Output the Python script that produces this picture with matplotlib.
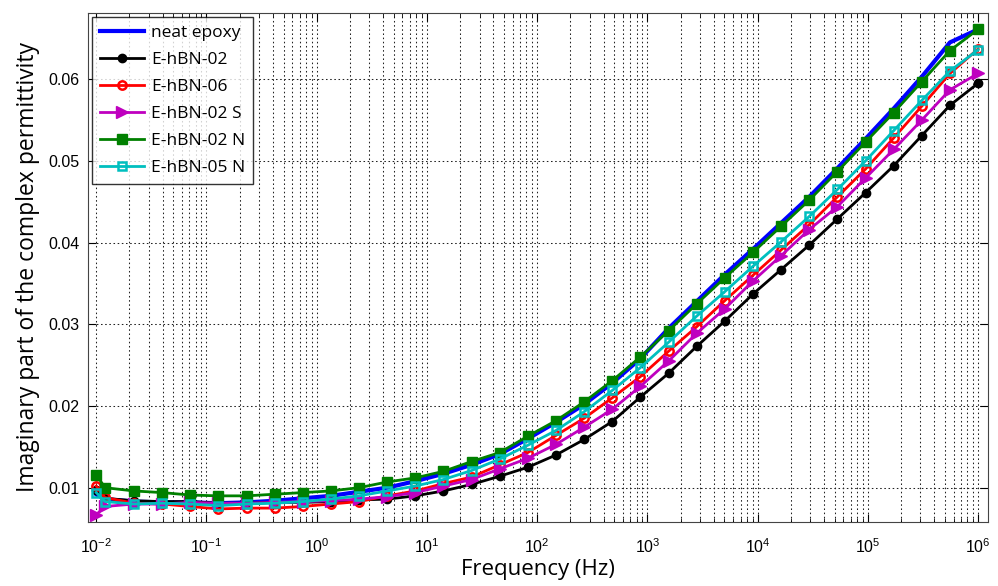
import matplotlib
matplotlib.use("Agg")
import matplotlib.pyplot as plt
from matplotlib.ticker import MultipleLocator, FormatStrFormatter, LogFormatterSciNotation

freq = [0.01, 0.012, 0.022, 0.0395, 0.0712, 0.128, 0.231, 0.415, 0.747, 1.34, 2.42, 4.36,
        7.84, 14.1, 25.4, 45.7, 82.3, 148, 267, 480, 864, 1556, 2801, 5041, 9074, 16334,
        29401, 52922, 95260, 171468, 308642, 555556, 1e6]

neat_epoxy = [0.0092, 0.0086, 0.0083, 0.0082, 0.0082, 0.0081, 0.0082, 0.0084, 0.0087, 0.0090,
              0.0095, 0.0100, 0.0108, 0.0117, 0.0128, 0.0141, 0.0160, 0.0180, 0.0202, 0.0228,
              0.0258, 0.0295, 0.0328, 0.0361, 0.0392, 0.0424, 0.0456, 0.0491, 0.0527, 0.0564,
              0.0603, 0.0645, 0.0661]
e_hbn_02 = [0.0097, 0.0087, 0.0084, 0.0083, 0.0083, 0.0081, 0.0081, 0.0082, 0.0082, 0.0083,
            0.0085, 0.0086, 0.0090, 0.0096, 0.0104, 0.0114, 0.0125, 0.0140, 0.0159, 0.0181,
            0.0211, 0.0240, 0.0273, 0.0304, 0.0337, 0.0367, 0.0397, 0.0429, 0.0461, 0.0494,
            0.0531, 0.0568, 0.0595]
e_hbn_06 = [0.0102, 0.0088, 0.0081, 0.0080, 0.0077, 0.0074, 0.0075, 0.0075, 0.0077, 0.0080,
            0.0083, 0.0090, 0.0096, 0.0105, 0.0113, 0.0128, 0.0143, 0.0164, 0.0185, 0.0210,
            0.0236, 0.0267, 0.0297, 0.0329, 0.0360, 0.0391, 0.0422, 0.0456, 0.0490, 0.0528,
            0.0567, 0.0607, 0.0637]
e_hbn_02_s = [0.0067, 0.0077, 0.0080, 0.0080, 0.0082, 0.0081, 0.0081, 0.0082, 0.0083, 0.0084,
              0.0086, 0.0089, 0.0094, 0.0102, 0.0110, 0.0123, 0.0136, 0.0153, 0.0174, 0.0196,
              0.0224, 0.0255, 0.0289, 0.0319, 0.0353, 0.0384, 0.0416, 0.0444, 0.0479, 0.0514,
              0.0550, 0.0587, 0.0607]
e_hbn_02_n = [0.0116, 0.0100, 0.0096, 0.0094, 0.0091, 0.0090, 0.0090, 0.0092, 0.0094, 0.0096,
              0.0100, 0.0107, 0.0112, 0.0120, 0.0132, 0.0143, 0.0163, 0.0182, 0.0205, 0.0231,
              0.0260, 0.0292, 0.0325, 0.0357, 0.0388, 0.0420, 0.0452, 0.0487, 0.0523, 0.0559,
              0.0597, 0.0635, 0.0661]
e_hbn_05_n = [0.0094, 0.0083, 0.0080, 0.0081, 0.0080, 0.0078, 0.0080, 0.0081, 0.0083, 0.0086,
              0.0090, 0.0096, 0.0102, 0.0110, 0.0121, 0.0135, 0.0152, 0.0170, 0.0193, 0.0219,
              0.0247, 0.0278, 0.0310, 0.0340, 0.0371, 0.0401, 0.0432, 0.0465, 0.0500, 0.0537,
              0.0574, 0.0610, 0.0636]

labels = ["neat epoxy", "E-hBN-02", "E-hBN-06", "E-hBN-02 S", "E-hBN-02 N", "E-hBN-05 N"]
x_major_ticks = [1e-2, 1e-1, 1e0, 1e1, 1e2, 1e3, 1e4, 1e5, 1e6]

plt.rcParams['font.family'] = ['Liberation Sans', 'DejaVu Sans']

fig = plt.figure(figsize=(9.98, 5.86), dpi=100)
ax = fig.add_axes([88/998, 1 - 522/586, 900/998, 509/586])

ax.plot(freq, neat_epoxy, color='#0000FF', lw=3.0, label=labels[0])
ax.plot(freq, e_hbn_02, color='black', lw=2, marker='o', ms=6, label=labels[1])
ax.plot(freq, e_hbn_06, color='red', lw=2, marker='o', ms=6, mfc='none', mew=1.8, label=labels[2])
ax.plot(freq, e_hbn_02_s, color='#BF00BF', lw=2, marker='>', ms=8, label=labels[3])
ax.plot(freq, e_hbn_02_n, color='#008000', lw=2, marker='s', ms=7, label=labels[4])
ax.plot(freq, e_hbn_05_n, color='#00BFBF', lw=2, marker='s', ms=6, mfc='none', mew=1.8, label=labels[5])

ax.set_xscale('log')
ax.set_xlim(10**-2.075, 10**6.09)
ax.set_ylim(0.0058, 0.0681)
ax.set_xticks(x_major_ticks)
ax.xaxis.set_major_formatter(LogFormatterSciNotation())
minor = [m * t for t in x_major_ticks[:-1] for m in range(2, 10)]
ax.set_xticks(minor, minor=True)
ax.set_xticklabels([], minor=True)
ax.yaxis.set_major_locator(MultipleLocator(0.01))
ax.yaxis.set_major_formatter(FormatStrFormatter('%.2f'))

gstyle = dict(linestyle=(0, (1.5, 2.5)), color='#222222', lw=0.75)
ax.grid(True, which='major', axis='both', **gstyle)
ax.grid(True, which='minor', axis='x', **gstyle)
ax.tick_params(which='both', direction='in', top=True, right=True, labelsize=11.5)
ax.tick_params(which='major', length=6, pad=6)
ax.tick_params(which='minor', length=3)
ax.tick_params(axis='x', which='major', pad=11)
for s in ax.spines.values():
    s.set_color('#444444')

ax.set_xlabel('Frequency (Hz)', fontsize=16, family=['Open Sans', 'DejaVu Sans'], labelpad=2)
ax.set_ylabel('Imaginary part of the complex permittivity', fontsize=16.5,
              family=['Open Sans', 'DejaVu Sans'], labelpad=6)

leg = ax.legend(loc='upper left', frameon=True, fancybox=False, edgecolor='black',
                borderaxespad=0.25, handlelength=2.5, handletextpad=0.45, labelspacing=0.62,
                borderpad=0.45, prop={'family': ['Open Sans', 'DejaVu Sans'], 'size': 12.5})
leg.get_frame().set_linewidth(1.0)

fig.savefig('out.png', dpi=100)
